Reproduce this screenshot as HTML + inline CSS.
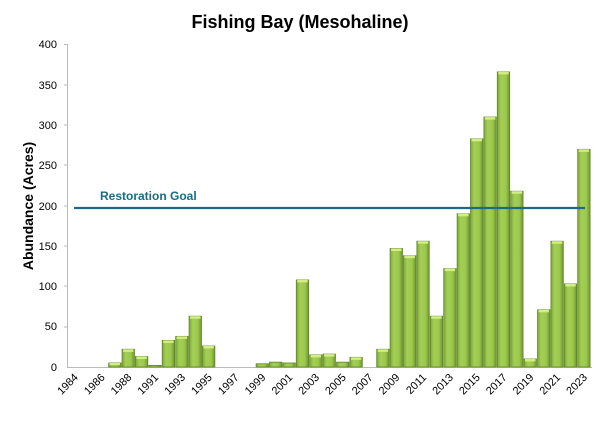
<!DOCTYPE html>
<html><head><meta charset="utf-8"><style>
html,body{margin:0;padding:0;background:#fff;}
svg{display:block;font-family:"Liberation Sans",Calibri,sans-serif;}
</style></head><body>
<svg width="600" height="435" viewBox="0 0 600 435" xmlns="http://www.w3.org/2000/svg">
<defs>
<linearGradient id="g" x1="0" x2="1" y1="0" y2="0">
<stop offset="0" stop-color="#7fa83a"/><stop offset="0.3" stop-color="#a3cf55"/><stop offset="0.7" stop-color="#9cc84d"/><stop offset="1" stop-color="#6f9530"/>
</linearGradient>
</defs>
<text x="300" y="28" text-anchor="middle" font-size="18" font-weight="bold" fill="#000">Fishing Bay (Mesohaline)</text>
<text transform="translate(33,206) rotate(-90)" text-anchor="middle" font-size="14" font-weight="bold">Abundance (Acres)</text>
<line x1="67.5" y1="44" x2="67.5" y2="367" stroke="#bbb"/>
<line x1="67" y1="367.5" x2="592" y2="367.5" stroke="#bbb"/>
<g font-size="11" text-anchor="end" fill="#000">
<text x="57" y="48">400</text><text x="57" y="89">350</text><text x="57" y="129">300</text>
<text x="57" y="169">250</text><text x="57" y="210">200</text><text x="57" y="250">150</text>
<text x="57" y="290">100</text><text x="57" y="330">50</text><text x="57" y="371">0</text>
</g>
<g stroke="#bbb"><line x1="64" x2="67" y1="44.5" y2="44.5"/><line x1="64" x2="67" y1="85" y2="85"/><line x1="64" x2="67" y1="125" y2="125"/><line x1="64" x2="67" y1="165" y2="165"/><line x1="64" x2="67" y1="206" y2="206"/><line x1="64" x2="67" y1="246" y2="246"/><line x1="64" x2="67" y1="286" y2="286"/><line x1="64" x2="67" y1="327" y2="327"/></g>
<g transform="translate(68,0) scale(0.99165,1) translate(-68,0)">
<g fill="url(#g)" stroke="#5f8428" stroke-width="0.8">
<rect x="109" y="362.97" width="12.5" height="4.03"/>
<rect x="122.5" y="349.26" width="12.5" height="17.74"/>
<rect x="136" y="356.52" width="12.5" height="10.48"/>
<rect x="149.5" y="365.39" width="12.5" height="1.61"/>
<rect x="163" y="340.39" width="12.5" height="26.61"/>
<rect x="176.6" y="336.36" width="12.5" height="30.64"/>
<rect x="190.1" y="316.21" width="12.5" height="50.79"/>
<rect x="203.6" y="346.04" width="12.5" height="20.96"/>
<rect x="257.7" y="363.77" width="12.5" height="3.23"/>
<rect x="271.2" y="362.16" width="12.5" height="4.84"/>
<rect x="284.7" y="362.97" width="12.5" height="4.03"/>
<rect x="298.2" y="279.92" width="12.5" height="87.08"/>
<rect x="311.7" y="354.91" width="12.5" height="12.09"/>
<rect x="325.2" y="354.1" width="12.5" height="12.9"/>
<rect x="338.8" y="362.16" width="12.5" height="4.84"/>
<rect x="352.3" y="357.32" width="12.5" height="9.68"/>
<rect x="379.3" y="349.26" width="12.5" height="17.74"/>
<rect x="392.8" y="248.48" width="12.5" height="118.52"/>
<rect x="406.3" y="255.74" width="12.5" height="111.26"/>
<rect x="419.8" y="241.22" width="12.5" height="125.78"/>
<rect x="433.3" y="316.21" width="12.5" height="50.79"/>
<rect x="446.9" y="268.64" width="12.5" height="98.36"/>
<rect x="460.4" y="213.81" width="12.5" height="153.19"/>
<rect x="473.9" y="138.83" width="12.5" height="228.17"/>
<rect x="487.4" y="117.06" width="12.5" height="249.94"/>
<rect x="500.9" y="71.91" width="12.5" height="295.09"/>
<rect x="514.4" y="191.24" width="12.5" height="175.76"/>
<rect x="527.9" y="358.94" width="12.5" height="8.06"/>
<rect x="541.5" y="309.76" width="12.5" height="57.24"/>
<rect x="555" y="241.22" width="12.5" height="125.78"/>
<rect x="568.5" y="283.96" width="12.5" height="83.04"/>
<rect x="582" y="149.31" width="12.5" height="217.69"/>
</g>
<g fill="#d4ee86">
<rect x="110" y="363" width="10.5" height="2"/>
<rect x="123.5" y="349.3" width="10.5" height="2.5"/>
<rect x="137" y="356.5" width="10.5" height="2.5"/>
<rect x="164" y="340.4" width="10.5" height="2.5"/>
<rect x="177.6" y="336.4" width="10.5" height="2.5"/>
<rect x="191.1" y="316.2" width="10.5" height="2.5"/>
<rect x="204.6" y="346" width="10.5" height="2.5"/>
<rect x="299.2" y="279.9" width="10.5" height="2.5"/>
<rect x="312.7" y="354.9" width="10.5" height="2.5"/>
<rect x="326.2" y="354.1" width="10.5" height="2.5"/>
<rect x="353.3" y="357.3" width="10.5" height="2.5"/>
<rect x="380.3" y="349.3" width="10.5" height="2.5"/>
<rect x="393.8" y="248.5" width="10.5" height="2.5"/>
<rect x="407.3" y="255.7" width="10.5" height="2.5"/>
<rect x="420.8" y="241.2" width="10.5" height="2.5"/>
<rect x="434.3" y="316.2" width="10.5" height="2.5"/>
<rect x="447.9" y="268.6" width="10.5" height="2.5"/>
<rect x="461.4" y="213.8" width="10.5" height="2.5"/>
<rect x="474.9" y="138.8" width="10.5" height="2.5"/>
<rect x="488.4" y="117.1" width="10.5" height="2.5"/>
<rect x="501.9" y="71.9" width="10.5" height="2.5"/>
<rect x="515.4" y="191.2" width="10.5" height="2.5"/>
<rect x="528.9" y="358.9" width="10.5" height="2.5"/>
<rect x="542.5" y="309.8" width="10.5" height="2.5"/>
<rect x="556" y="241.2" width="10.5" height="2.5"/>
<rect x="569.5" y="284" width="10.5" height="2.5"/>
<rect x="583" y="149.3" width="10.5" height="2.5"/>
</g>
<g font-size="11" text-anchor="end" fill="#000">
<text transform="translate(78.8,378) rotate(-45)">1984</text>
<text transform="translate(105.8,378) rotate(-45)">1986</text>
<text transform="translate(132.8,378) rotate(-45)">1988</text>
<text transform="translate(159.8,378) rotate(-45)">1991</text>
<text transform="translate(186.9,378) rotate(-45)">1993</text>
<text transform="translate(213.9,378) rotate(-45)">1995</text>
<text transform="translate(240.9,378) rotate(-45)">1997</text>
<text transform="translate(267.9,378) rotate(-45)">1999</text>
<text transform="translate(295,378) rotate(-45)">2001</text>
<text transform="translate(322,378) rotate(-45)">2003</text>
<text transform="translate(349,378) rotate(-45)">2005</text>
<text transform="translate(376,378) rotate(-45)">2007</text>
<text transform="translate(403.1,378) rotate(-45)">2009</text>
<text transform="translate(430.1,378) rotate(-45)">2011</text>
<text transform="translate(457.1,378) rotate(-45)">2013</text>
<text transform="translate(484.1,378) rotate(-45)">2015</text>
<text transform="translate(511.2,378) rotate(-45)">2017</text>
<text transform="translate(538.2,378) rotate(-45)">2019</text>
<text transform="translate(565.2,378) rotate(-45)">2021</text>
<text transform="translate(592.2,378) rotate(-45)">2023</text>
</g>
</g>
<line x1="74" y1="208" x2="585" y2="208" stroke="#1d6a86" stroke-width="2.2"/>
<text x="100" y="200" font-size="12" font-weight="bold" fill="#1d6a86">Restoration Goal</text>
</svg>
</body></html>
